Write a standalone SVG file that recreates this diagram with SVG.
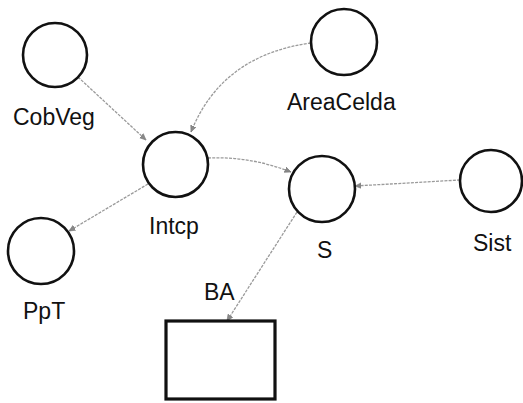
<svg xmlns="http://www.w3.org/2000/svg" width="523" height="403" viewBox="0 0 523 403">
<style>
.node circle{fill:none;stroke:#111;stroke-width:2.6}
.node rect{fill:none;stroke:#111;stroke-width:3.2}
text{font-family:"Liberation Sans",Arial,sans-serif;font-size:23px;fill:#111}
.conn path{fill:none;stroke:#9a9a9a;stroke-width:1.3;stroke-dasharray:3 1.2}
</style>
<defs>
<marker id="arr" viewBox="0 0 10 10" refX="9" refY="5" markerWidth="7" markerHeight="7" orient="auto" markerUnits="userSpaceOnUse">
<path d="M0,1 L9,5 L0,9 z" fill="#888" stroke="#777" stroke-width="0.8"/>
</marker>
</defs>
<rect width="523" height="403" fill="#fff"/>
<g id="connectors" class="conn">
<path d="M78,77 L146,140" marker-end="url(#arr)"/>
<path d="M311,43 Q222,55 191,132" marker-end="url(#arr)"/>
<path d="M208,158 Q250,156 291,172" marker-end="url(#arr)"/>
<path d="M460,180 L355,186" marker-end="url(#arr)"/>
<path d="M148,184 L69,231" marker-end="url(#arr)"/>
<path d="M297,212 L227,321" marker-end="url(#arr)"/>
</g>
<g id="CobVeg" class="node"><circle cx="55" cy="55" r="32"/><text x="13" y="125">CobVeg</text></g>
<g id="AreaCelda" class="node"><circle cx="344" cy="42" r="33"/><text x="287" y="110">AreaCelda</text></g>
<g id="Intcp" class="node"><circle cx="175.5" cy="164.5" r="32.5"/><text x="149" y="234">Intcp</text></g>
<g id="S" class="node"><circle cx="322" cy="189" r="33"/><text x="317" y="258">S</text></g>
<g id="Sist" class="node"><circle cx="491" cy="181" r="31"/><text x="473" y="251">Sist</text></g>
<g id="PpT" class="node"><circle cx="41" cy="251" r="33"/><text x="23" y="319">PpT</text></g>
<g id="BA" class="node"><rect x="166" y="321" width="109" height="78"/><text x="204" y="300">BA</text></g>
</svg>
